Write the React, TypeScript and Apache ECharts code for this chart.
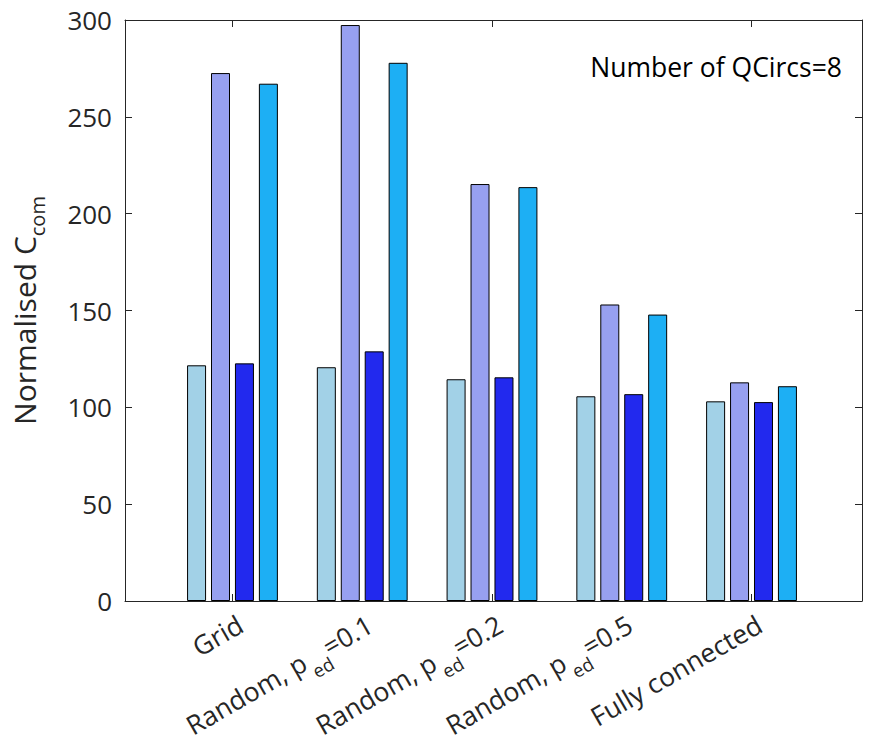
import React, { useEffect, useRef } from 'react';
import * as echarts from 'echarts';

const categories = ['Grid', 'Random, p_ed=0.1', 'Random, p_ed=0.2', 'Random, p_ed=0.5', 'Fully connected'];
const seriesLight = [121.7, 120.7, 114.5, 105.7, 103.1];
const seriesPurple = [272.6, 297.4, 215.3, 153.1, 112.9];
const seriesDark = [122.7, 128.9, 115.5, 106.8, 102.7];
const seriesCyan = [267.1, 277.9, 213.7, 147.9, 110.9];
const seriesNames = ['s1', 's2', 's3', 's4'];
const seriesColors = ['#A2D1E7', '#97A0F0', '#2229EE', '#1DAFF4'];
const yMin = 0;
const yMax = 300;
const yInterval = 50;
const yTitle = '{a|Normalised C}{s|com}';
const annotation = 'Number of QCircs=8';

const FONT = 'Open Sans';
const TXT = '#262626';

function fmtCat(v: string): string {
  const parts = v.split('_ed');
  if (parts.length === 2) return `{a|${parts[0]}}{s|ed}{a|${parts[1]}}`;
  return `{a|${v}}`;
}

export default function App() {
  const ref = useRef<HTMLDivElement>(null);
  useEffect(() => {
    document.body.style.margin = '0';
    const chart = echarts.init(ref.current!, null, { renderer: 'svg' });
    const frameGrid = { left: 125, right: 13, top: 20, bottom: 149 };
    const barGrid = { left: 167.6, right: 58.6, top: 20, bottom: 149 };
    const labelShift = 8;
    const labelGrid = { left: 167.6 + labelShift, right: 58.6 - labelShift, top: 20, bottom: 149 };
    const lineStyle = { color: TXT, width: 1 };
    const data = [seriesLight, seriesPurple, seriesDark, seriesCyan];
    chart.setOption({
      animation: false,
      grid: [frameGrid, barGrid, labelGrid],
      xAxis: [
        { gridIndex: 0, type: 'value', min: 0, max: 1, position: 'bottom', axisLine: { show: true, onZero: false, lineStyle }, axisTick: { show: false }, axisLabel: { show: false }, splitLine: { show: false } },
        { gridIndex: 0, type: 'value', min: 0, max: 1, position: 'top', axisLine: { show: true, onZero: false, lineStyle }, axisTick: { show: false }, axisLabel: { show: false }, splitLine: { show: false } },
        { gridIndex: 1, type: 'category', data: categories, position: 'bottom', axisLine: { show: false, onZero: false }, axisTick: { show: true, inside: true, alignWithLabel: true, length: 7, lineStyle }, axisLabel: { show: false }, splitLine: { show: false } },
        { gridIndex: 1, type: 'category', data: categories, position: 'top', axisLine: { show: false, onZero: false }, axisTick: { show: true, inside: true, alignWithLabel: true, length: 7, lineStyle }, axisLabel: { show: false }, splitLine: { show: false } },
        {
          gridIndex: 2, type: 'category', data: categories, position: 'bottom', axisLine: { show: false, onZero: false }, axisTick: { show: false }, splitLine: { show: false },
          axisLabel: {
            show: true, rotate: 30, margin: 30, interval: 0, formatter: fmtCat,
            rich: {
              a: { fontSize: 26.5, fontFamily: FONT, color: TXT, lineHeight: 48 },
              s: { fontSize: 18.5, fontFamily: FONT, color: TXT, lineHeight: 18, padding: [30, 0, 0, 2] },
            },
          },
        },
      ],
      yAxis: [
        {
          gridIndex: 0, type: 'value', min: yMin, max: yMax, interval: yInterval, position: 'left',
          axisLine: { show: true, onZero: false, lineStyle }, axisTick: { show: true, inside: true, length: 7, lineStyle },
          axisLabel: { show: true, fontSize: 26, fontFamily: FONT, color: TXT, margin: 13 },
          splitLine: { show: false },
        },
        {
          gridIndex: 0, type: 'value', min: yMin, max: yMax, interval: yInterval, position: 'right',
          axisLine: { show: true, onZero: false, lineStyle }, axisTick: { show: true, inside: true, length: 7, lineStyle },
          axisLabel: { show: false }, splitLine: { show: false },
        },
        { gridIndex: 1, type: 'value', min: yMin, max: yMax, show: false, splitLine: { show: false } },
        { gridIndex: 2, type: 'value', min: yMin, max: yMax, show: false, splitLine: { show: false } },
      ],
      series: data.map((d, i) => ({
        name: seriesNames[i],
        type: 'bar',
        xAxisIndex: 2,
        yAxisIndex: 2,
        data: d,
        barWidth: 19,
        barGap: '26%',
        itemStyle: { color: seriesColors[i], borderColor: '#000', borderWidth: 1 },
      })),
      graphic: [
        {
          type: 'text', x: 842, y: 67,
          style: { text: annotation, fontSize: 26.5, fontFamily: FONT, fill: '#000', align: 'right', verticalAlign: 'middle' },
        },
        {
          type: 'text', x: 24, y: 310.5, rotation: Math.PI / 2,
          style: {
            text: yTitle, align: 'center', verticalAlign: 'middle', fill: TXT,
            rich: {
              a: { fontSize: 30, fontFamily: FONT, fill: TXT, lineHeight: 48 },
              s: { fontSize: 20, fontFamily: FONT, fill: TXT, lineHeight: 20, padding: [27, 0, 0, 0] },
            },
          },
        },
      ],
    });
    return () => chart.dispose();
  }, []);
  return <div ref={ref} style={{ width: 875, height: 750 }} />;
}
